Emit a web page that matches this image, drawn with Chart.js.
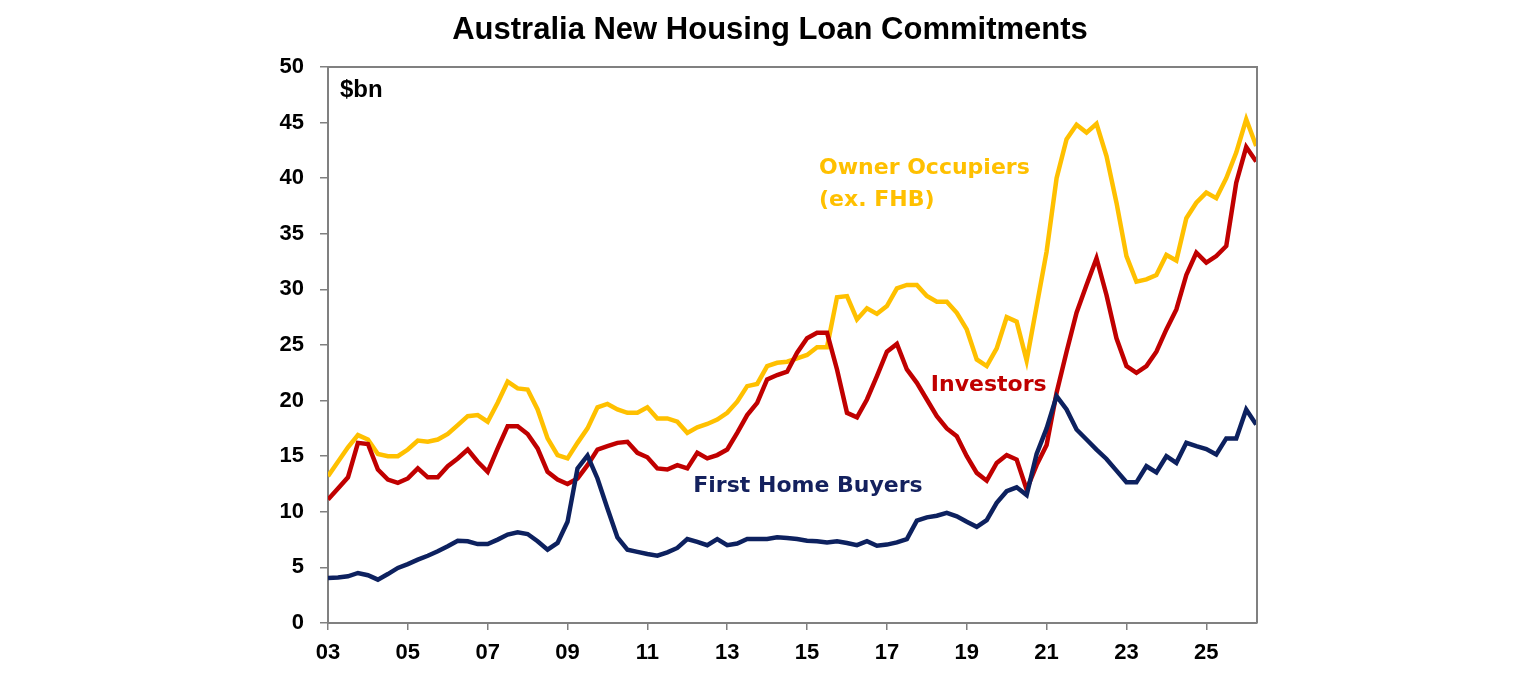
<!DOCTYPE html>
<html>
<head>
<meta charset="utf-8">
<script src="https://cdn.jsdelivr.net/npm/chart.js@4.4.1/dist/chart.umd.min.js"></script>
<style>
  html, body { margin: 0; padding: 0; background: #fff; }
  #wrap { width: 1536px; height: 680px; }
</style>
</head>
<body>
<div id="wrap"><canvas id="loans"></canvas></div>
<script>
// quarterly, Mar-03 .. Mar-26 ($bn)
const quarters = []
for (let i = 0; i < 94; i++) quarters.push(2003 + i * 0.25)

const ownerOcc = [13.2, 14.5, 15.8, 16.9, 16.5, 15.2, 15.0, 15.0, 15.6, 16.4, 16.3, 16.5, 17.0, 17.8, 18.6, 18.7, 18.1, 19.8, 21.7, 21.1, 21.0, 19.2, 16.6, 15.1, 14.8,
  16.2, 17.5, 19.4, 19.7, 19.2, 18.9, 18.9, 19.4, 18.4, 18.4, 18.1, 17.1, 17.6, 17.9, 18.3, 18.9, 19.9, 21.3, 21.5, 23.1, 23.4, 23.5, 23.8, 24.1,
  24.8, 24.8, 29.3, 29.4, 27.3, 28.3, 27.8, 28.5, 30.1, 30.4, 30.4, 29.4, 28.9, 28.9, 27.9, 26.4, 23.7, 23.1, 24.7, 27.5, 27.1, 23.6,
  28.5, 33.4, 40.0, 43.5, 44.8, 44.1, 44.9, 42.0, 37.8, 33.0, 30.7, 30.9, 31.3, 33.1, 32.6, 36.4, 37.8, 38.7, 38.2, 40.0, 42.3, 45.3, 42.9]

const investors = [11.1, 12.1, 13.1, 16.2, 16.1, 13.8, 12.9, 12.6, 13.0, 13.9, 13.1, 13.1, 14.1, 14.8, 15.6, 14.5, 13.6, 15.7, 17.7, 17.7, 17.0, 15.7, 13.6, 12.9, 12.5,
  13.0, 14.2, 15.6, 15.9, 16.2, 16.3, 15.3, 14.9, 13.9, 13.8, 14.2, 13.9, 15.3, 14.8, 15.1, 15.6, 17.1, 18.7, 19.8, 21.9, 22.3, 22.6, 24.3, 25.6,
  26.1, 26.1, 22.8, 18.9, 18.5, 20.1, 22.2, 24.4, 25.1, 22.8, 21.6, 20.1, 18.6, 17.5, 16.8, 15.0, 13.5, 12.8, 14.4, 15.1, 14.7, 12.0,
  14.2, 16.0, 20.7, 24.4, 27.9, 30.4, 32.8, 29.5, 25.6, 23.1, 22.5, 23.1, 24.4, 26.4, 28.2, 31.3, 33.3, 32.4, 33.0, 33.9, 39.6, 42.8, 41.5]

const firstHome = [4.05, 4.1, 4.2, 4.5, 4.3, 3.9, 4.4, 4.95, 5.3, 5.7, 6.05, 6.45, 6.9, 7.4, 7.35, 7.1, 7.1, 7.5, 7.95, 8.15, 8.0, 7.35, 6.6, 7.2, 9.1,
  13.9, 15.05, 13.0, 10.3, 7.7, 6.6, 6.4, 6.2, 6.05, 6.35, 6.75, 7.55, 7.3, 7.0, 7.55, 7.0, 7.15, 7.55, 7.55, 7.55, 7.7, 7.65, 7.55, 7.4,
  7.35, 7.25, 7.35, 7.2, 7.0, 7.35, 6.95, 7.05, 7.25, 7.55, 9.2, 9.5, 9.65, 9.9, 9.6, 9.1, 8.65, 9.25, 10.8, 11.85, 12.2, 11.5,
  15.2, 17.5, 20.4, 19.2, 17.4, 16.5, 15.6, 14.75, 13.7, 12.65, 12.65, 14.1, 13.55, 15.0, 14.4, 16.2, 15.9, 15.65, 15.15, 16.6, 16.6, 19.2, 17.85]

const tickYears = [2003, 2005, 2007, 2009, 2011, 2013, 2015, 2017, 2019, 2021, 2023, 2025]
const tickLabels = ['03', '05', '07', '09', '11', '13', '15', '17', '19', '21', '23', '25']

const AXIS_FONT = 'Liberation Sans, Arial, sans-serif'
const NOTE_FONT = '"DejaVu Sans", sans-serif'
const TITLE = 'Australia New Housing Loan Commitments'

const toPoints = arr => arr.map((v, i) => ({ x: quarters[i], y: v }))

// text notes inside the plot, placed in data coords
const notes = [
  { text: '$bn', x: 2003.3, y: 47.9, color: '#000000', font: 'bold 24px ' + AXIS_FONT },
  { text: 'Owner Occupiers', x: 2015.3, y: 40.85, color: '#FFC000', font: 'bold 22px ' + NOTE_FONT },
  { text: '(ex. FHB)', x: 2015.3, y: 38.0, color: '#FFC000', font: 'bold 22px ' + NOTE_FONT },
  { text: 'Investors', x: 2018.1, y: 21.4, color: '#C00000', font: 'bold 22px ' + NOTE_FONT },
  { text: 'First Home Buyers', x: 2012.15, y: 12.25, color: '#14215E', font: 'bold 22px ' + NOTE_FONT }
]

const framePlugin = {
  id: 'frame',
  afterDraw(chart) {
    const { ctx, chartArea: a, scales } = chart
    ctx.save()
    ctx.strokeStyle = '#808080'
    ctx.lineWidth = 2
    ctx.beginPath()
    ctx.moveTo(a.left, a.top)
    ctx.lineTo(a.right, a.top)
    ctx.lineTo(a.right, a.bottom)
    ctx.stroke()

    ctx.fillStyle = '#000'
    ctx.font = 'bold 31px ' + AXIS_FONT
    ctx.textAlign = 'center'
    ctx.textBaseline = 'alphabetic'
    ctx.fillText(TITLE, 770, 39)

    ctx.textBaseline = 'middle'
    ctx.textAlign = 'left'
    notes.forEach(n => {
      ctx.font = n.font
      ctx.fillStyle = n.color
      ctx.fillText(n.text, scales.x.getPixelForValue(n.x), scales.y.getPixelForValue(n.y))
    })
    ctx.restore()
  }
}

const ctx = document.getElementById('loans')
new Chart(ctx, {
  type: 'line',
  data: {
    datasets: [
      { label: 'First Home Buyers', data: toPoints(firstHome), borderColor: '#0D215F' },
      { label: 'Investors', data: toPoints(investors), borderColor: '#C00000' },
      { label: 'Owner Occupiers (ex. FHB)', data: toPoints(ownerOcc), borderColor: '#FFC000' }
    ]
  },
  options: {
    responsive: true,
    maintainAspectRatio: false,
    animation: false,
    devicePixelRatio: 1,
    layout: { padding: { left: 0, right: 279, top: 67, bottom: 0 } },
    elements: {
      line: { borderWidth: 4.5, tension: 0, fill: false },
      point: { radius: 0 }
    },
    plugins: {
      legend: { display: false },
      tooltip: { enabled: false },
      title: { display: false }
    },
    scales: {
      x: {
        type: 'linear',
        min: 2003,
        max: 2026.27,
        afterBuildTicks: s => { s.ticks = tickYears.map(v => ({ value: v })) },
        afterFit: s => { s.height = 57 },
        ticks: {
          callback: v => tickLabels[tickYears.indexOf(v)],
          color: '#000',
          font: { family: AXIS_FONT, size: 22, weight: 'bold' },
          maxRotation: 0,
          autoSkip: false,
          padding: 10
        },
        grid: { drawOnChartArea: false, drawTicks: true, tickLength: 7, color: '#808080', lineWidth: 1.5 },
        border: { color: '#808080', width: 2 }
      },
      y: {
        min: 0,
        max: 50,
        afterFit: s => { s.width = 328 },
        ticks: {
          stepSize: 5,
          color: '#000',
          font: { family: AXIS_FONT, size: 22, weight: 'bold' },
          padding: 16
        },
        grid: { drawOnChartArea: false, drawTicks: true, tickLength: 8, color: '#808080', lineWidth: 1.5 },
        border: { color: '#808080', width: 2 }
      }
    }
  },
  plugins: [framePlugin]
})
</script>
</body>
</html>
